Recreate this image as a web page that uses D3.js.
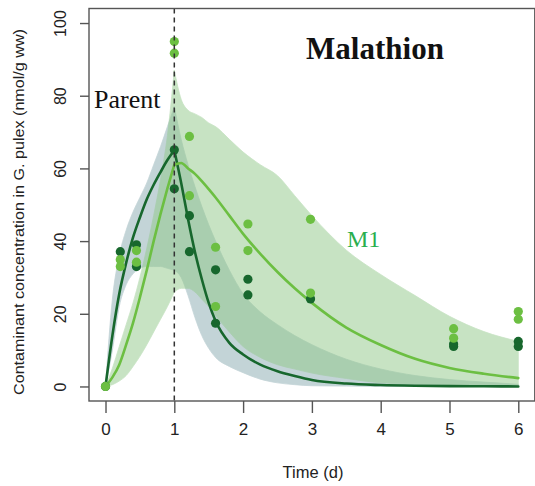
<!DOCTYPE html>
<html>
<head>
<meta charset="utf-8">
<script src="https://cdnjs.cloudflare.com/ajax/libs/d3/7.8.5/d3.min.js"></script>
<style>
  body { margin: 0; background: #fff; }
  svg { display: block; }
</style>
</head>
<body>
<svg id="chart" width="535" height="486"></svg>
<script>
// sampling days for the model curves (exposure phase / depuration phase)
var riseT = [0, 0.1, 0.2, 0.3, 0.4, 0.5, 0.6, 0.7, 0.8, 0.9, 1];
var fallT = [1, 1.1, 1.2, 1.3, 1.4, 1.5, 1.6, 1.8, 2, 2.25, 2.5, 2.75, 3, 3.5, 4, 4.5, 5, 5.5, 6];

// parent fit + interval
var parentRise = [0, 14, 25.5, 34, 41, 46.5, 51.5, 55.5, 59, 62.3, 65];
var parentFall = [65, 56, 46, 37, 29.5, 23, 18, 12, 8.8, 6, 4.2, 2.9, 1.8, 0.8, 0.4, 0.2, 0.1, 0.05, 0];
var parentHiRise = [0, 24, 36, 43, 48, 52, 56, 61, 66, 71.5, 77];
var parentLoRise = [0, 10, 22, 28, 31, 32.5, 33, 33, 33, 32.5, 32];
var parentHiFall = [77, 68, 61, 55, 49.5, 44.5, 40, 32, 25.5, 20.5, 17, 14, 11.5, 7.5, 4.8, 3, 1.9, 1.2, 0.6];
var parentLoFall = [32, 30, 25, 19, 14, 10.5, 8, 5.5, 3.8, 2, 1, 0.5, 0.2, 0.1, 0, 0, 0, 0, 0];

// M1 fit + interval
var m1Rise = [0, 2.5, 6, 11.5, 17.5, 24.5, 32, 40, 47.5, 54.5, 61];
var m1Fall = [61, 61.5, 60, 58.5, 56.5, 54.3, 52, 47, 42, 36.5, 31.5, 27, 23, 16.2, 11.4, 7.6, 5.1, 3.5, 2.3];
var m1HiRise = [0, 5, 11, 17, 23, 30, 38, 47, 57, 69, 87];
var m1LoRise = [0, 0.5, 1.5, 3, 5.5, 8.3, 11.5, 15, 18.5, 22, 26];
var m1HiFall = [87, 79, 76, 75, 74, 72.5, 71.5, 68, 64.5, 61, 58, 52.5, 47, 37.5, 30.8, 25, 19.3, 15.1, 12.4];
var m1LoFall = [26, 27, 27, 26, 24, 22, 19.5, 15, 11, 8, 6, 4.8, 3.7, 2.2, 1, 0.6, 0.4, 0.3, 0.2];

// measured concentrations
var parentObsT = [0, 0.215, 0.45, 0.45, 1, 1, 1.22, 1.22, 1.6, 1.6, 2.07, 2.07, 2.98, 5.06, 5.06, 6, 6];
var parentObsC = [0, 37.1, 39, 33, 65.1, 54.4, 47, 37.1, 32.1, 17.4, 29.5, 25.2, 24.1, 11.7, 11, 12.4, 11];
var m1ObsT = [0, 0.215, 0.215, 0.45, 0.45, 1, 1, 1.22, 1.22, 1.6, 1.6, 2.07, 2.07, 2.98, 2.98, 5.06, 5.06, 6, 6];
var m1ObsC = [0, 34.9, 33, 37.4, 34.2, 94.9, 91.7, 68.8, 52.5, 38.3, 22, 44.7, 37.4, 46, 25.7, 15.9, 13.3, 20.6, 18.5];

var xTicks = [0, 1, 2, 3, 4, 5, 6];
var yTicks = [0, 20, 40, 60, 80, 100];

var darkGreen = "#17672d", lightGreen = "#6cbf42";
var sans = "'Liberation Sans', Arial, sans-serif",
    serif = "'Liberation Serif', 'Times New Roman', serif";

var svg = d3.select("#chart"),
    margin = {top: 8.5, left: 89},
    plotRight = 534.8,
    plotBottom = 401;

var x = d3.scaleLinear().domain([-0.24, 6.24]).range([margin.left, plotRight]),
    y = d3.scaleLinear().domain([-4, 104]).range([plotBottom, margin.top]);

function pts(ts, vs) { return ts.map(function(t, i) { return {t: t, v: vs[i]}; }); }
function bandPts(ts, lo, hi) { return ts.map(function(t, i) { return {t: t, lo: lo[i], hi: hi[i]}; }); }

var area = d3.area()
    .x(function(d) { return x(d.t); })
    .y0(function(d) { return y(d.lo); })
    .y1(function(d) { return y(d.hi); })
    .curve(d3.curveMonotoneX);

var line = d3.line()
    .x(function(d) { return x(d.t); })
    .y(function(d) { return y(d.v); })
    .curve(d3.curveMonotoneX);

// credible bands (parent underneath, M1 on top, both half transparent)
function drawBand(color, alpha, rise, fall) {
  var g = svg.append("g").attr("opacity", alpha);
  [rise, fall].forEach(function(b) {
    g.append("path")
      .attr("d", area(b))
      .attr("fill", color)
      .attr("stroke", color)
      .attr("stroke-width", 0.8);
  });
}
drawBand("#89abb1", 0.5, bandPts(riseT, parentLoRise, parentHiRise), bandPts(fallT, parentLoFall, parentHiFall));
drawBand("#91c989", 0.5, bandPts(riseT, m1LoRise, m1HiRise), bandPts(fallT, m1LoFall, m1HiFall));

// fitted curves
[[parentRise, parentFall, darkGreen], [m1Rise, m1Fall, lightGreen]].forEach(function(s) {
  svg.append("path").attr("d", line(pts(riseT, s[0])))
    .attr("fill", "none").attr("stroke", s[2]).attr("stroke-width", 2.6).attr("stroke-linecap", "round");
  svg.append("path").attr("d", line(pts(fallT, s[1])))
    .attr("fill", "none").attr("stroke", s[2]).attr("stroke-width", 2.6).attr("stroke-linecap", "round");
});

// observations
svg.selectAll(".pobs")
  .data(pts(parentObsT, parentObsC))
  .enter().append("circle")
    .attr("class", "pobs")
    .attr("cx", function(d) { return x(d.t); })
    .attr("cy", function(d) { return y(d.v); })
    .attr("r", 4.6)
    .attr("fill", darkGreen);

svg.selectAll(".mobs")
  .data(pts(m1ObsT, m1ObsC))
  .enter().append("circle")
    .attr("class", "mobs")
    .attr("cx", function(d) { return x(d.t); })
    .attr("cy", function(d) { return y(d.v); })
    .attr("r", 4.6)
    .attr("fill", lightGreen);

// end of exposure
svg.append("line")
  .attr("x1", x(1)).attr("x2", x(1))
  .attr("y1", margin.top).attr("y2", plotBottom)
  .attr("stroke", "#333").attr("stroke-width", 1.5)
  .attr("stroke-dasharray", "5,4");

// frame
svg.append("rect")
  .attr("x", margin.left).attr("y", margin.top)
  .attr("width", plotRight - margin.left).attr("height", plotBottom - margin.top)
  .attr("fill", "none").attr("stroke", "#555").attr("stroke-width", 1.4);

// axes
var xAxis = svg.append("g")
  .attr("transform", "translate(0," + plotBottom + ")")
  .call(d3.axisBottom(x).tickValues(xTicks).tickSize(12).tickPadding(8).tickFormat(d3.format("d")));
var yAxis = svg.append("g")
  .attr("transform", "translate(" + margin.left + ",0)")
  .call(d3.axisLeft(y).tickValues(yTicks).tickSize(9).tickFormat(d3.format("d")));

[xAxis, yAxis].forEach(function(a) {
  a.select(".domain").remove();
  a.selectAll("line").attr("stroke", "#555").attr("stroke-width", 1.4);
  a.selectAll("text").attr("fill", "#222").style("font-family", sans);
});
xAxis.selectAll("text").attr("dy", "0.85em").style("font-size", "17px");
yAxis.selectAll("text")
  .style("font-size", "16px")
  .attr("x", 0).attr("y", 0).attr("dy", 0)
  .attr("text-anchor", "middle")
  .attr("transform", "translate(-23,0) rotate(-90)");

svg.append("text")
  .attr("x", 313).attr("y", 478)
  .attr("text-anchor", "middle")
  .style("font-family", sans).style("font-size", "16.5px")
  .attr("fill", "#222")
  .text("Time (d)");

svg.append("text")
  .attr("transform", "translate(24,212) rotate(-90)")
  .attr("text-anchor", "middle")
  .attr("textLength", 366).attr("lengthAdjust", "spacingAndGlyphs")
  .style("font-family", sans).style("font-size", "14px")
  .attr("fill", "#222")
  .text("Contaminant concentration in G. pulex (nmol/g ww)");

// annotations
svg.append("text")
  .attr("x", 375).attr("y", 59)
  .attr("text-anchor", "middle")
  .style("font-family", serif).style("font-size", "31px").style("font-weight", "bold")
  .attr("fill", "#111")
  .text("Malathion");

svg.append("text")
  .attr("x", 94).attr("y", 108)
  .style("font-family", serif).style("font-size", "26px")
  .attr("fill", "#111")
  .text("Parent");

svg.append("text")
  .attr("x", 347).attr("y", 247)
  .style("font-family", serif).style("font-size", "24px")
  .attr("fill", "#2aae4e")
  .text("M1");
</script>
</body>
</html>
